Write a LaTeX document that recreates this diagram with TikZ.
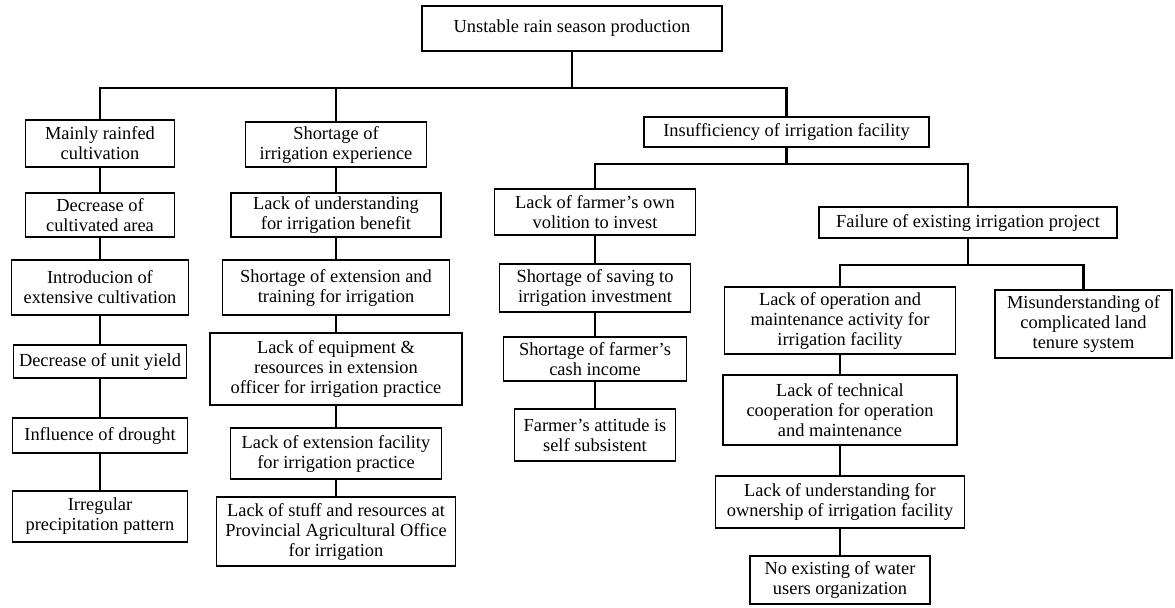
\documentclass[tikz,border=0pt]{standalone}
\usepackage{fontspec}
\setmainfont{Liberation Serif}

\tikzset{
  box/.style={draw,line width=0.8pt,align=center,inner sep=0pt,font=\fontsize{9.2}{10}\selectfont},
  wh/.style 2 args={minimum width=#1*0.5pt,minimum height=#2*0.5pt},
  link/.style={line width=1.2pt}
}

\begin{document}
\begin{tikzpicture}[x=0.5pt,y=-0.5pt]
\useasboundingbox (0,0) rectangle (1175,607);
% top
\node[box,wh={300}{45}] (root) at (572,28.5) {Unstable rain season production};
% left column
\node[box,wh={149}{47}] (rainfed) at (100,143.5) {Mainly rainfed\\cultivation};
\node[box,wh={149}{44}] (cultarea) at (100,215) {Decrease of\\cultivated area};
\node[box,wh={177}{55}] (extensive) at (100,287.5) {Introducion of\\extensive cultivation};
\node[box,wh={173}{33}] (unityield) at (100,361.5) {Decrease of unit yield};
\node[box,wh={175}{35}] (drought) at (100,435.5) {Influence of drought};
\node[box,wh={175}{51}] (precip) at (100,516.5) {Irregular\\precipitation pattern};
% second column
\node[box,wh={181}{45}] (experience) at (336,144.5) {Shortage of\\irrigation experience};
\node[box,wh={210}{44}] (benefit) at (336,215) {Lack of understanding\\for irrigation benefit};
\node[box,wh={227}{55}] (training) at (336,287.5) {Shortage of extension and\\training for irrigation};
\node[box,wh={252}{72}] (equipment) at (336,369) {Lack of equipment \&\\resources in extension\\officer for irrigation practice};
\node[box,wh={211}{51}] (facility) at (336,453.5) {Lack of extension facility\\for irrigation practice};
\node[box,wh={239}{69}] (stuff) at (336,531.5) {Lack of stuff and resources at\\Provincial Agricultural Office\\for irrigation};
% right branch
\node[box,wh={285}{30}] (insuff) at (786.5,132) {Insufficiency of irrigation facility};
\node[box,wh={201}{46}] (volition) at (595,212) {Lack of farmer's own\\volition to invest};
\node[box,wh={191}{48}] (saving) at (595,288) {Shortage of saving to\\irrigation investment};
\node[box,wh={183}{44}] (cash) at (595,359) {Shortage of farmer's\\cash income};
\node[box,wh={161}{52}] (attitude) at (595,435) {Farmer's attitude  is\\self subsistent};
\node[box,wh={298}{31}] (failure) at (968,222.5) {Failure of existing irrigation project};
\node[box,wh={231}{67}] (operation) at (840,320.5) {Lack of operation and\\maintenance  activity  for\\irrigation facility};
\node[box,wh={234}{70}] (technical) at (840,410) {Lack of technical\\cooperation for operation\\and maintenance};
\node[box,wh={249}{52}] (ownership) at (840,502) {Lack of understanding for\\ownership of irrigation facility};
\node[box,wh={180}{48}] (water) at (840,580) {No existing of water\\users organization};
\node[box,wh={177}{68}] (misunder) at (1083.5,324) {Misunderstanding of\\complicated land\\tenure system};
% branches
\coordinate (bar) at (572,88);
\coordinate (bar2) at (786.5,164);
\coordinate (bar3) at (968,265);
\draw[link] (root) -- (bar);
\draw[link] (bar) -| (rainfed);
\draw[link] (bar) -| (experience);
\draw[link] (bar) -| (insuff);
\draw[link] (insuff) -- (bar2);
\draw[link] (bar2) -| (volition);
\draw[link] (bar2) -| (failure);
\draw[link] (failure) -- (bar3);
\draw[link] (bar3) -| (operation);
\draw[link] (bar3) -| (misunder);
% chains
\foreach \a/\b in {rainfed/cultarea,cultarea/extensive,extensive/unityield,unityield/drought,drought/precip,
  experience/benefit,benefit/training,training/equipment,equipment/facility,facility/stuff,
  volition/saving,saving/cash,cash/attitude,
  operation/technical,technical/ownership,ownership/water}
  \draw[link] (\a) -- (\b);
\end{tikzpicture}
\end{document}
